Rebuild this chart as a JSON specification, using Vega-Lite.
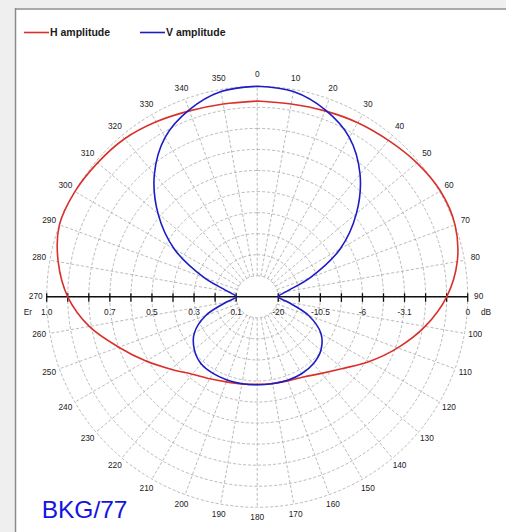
{
  "$schema": "https://vega.github.io/schema/vega-lite/v6.json",
  "width": 491,
  "height": 524,
  "autosize": {"type": "none"},
  "padding": {"left": 15, "top": 8, "right": 0, "bottom": 0},
  "background": "#efefef",
  "config": {
    "view": {"fill": "white", "stroke": null},
    "font": "Liberation Sans",
    "legend": {
      "orient": "none",
      "legendX": 8,
      "legendY": 11,
      "direction": "horizontal",
      "symbolType": "stroke",
      "symbolSize": 625,
      "symbolStrokeWidth": 1.6,
      "labelFont": "Liberation Sans",
      "labelFontWeight": "bold",
      "labelFontSize": 10.5,
      "labelColor": "#1a1a1a",
      "labelOffset": 0,
      "columnPadding": 25,
      "padding": 0
    }
  },
  "layer": [
    {
      "data": {"values": [{"edge": "top"}]},
      "mark": {"type": "rule", "color": "#8c8c8c", "strokeWidth": 1.5},
      "encoding": {
        "y": {"datum": 1.3672, "type": "quantitative", "scale": {"domain": [-1.1173, 1.372], "nice": false, "zero": false}, "axis": null}
      }
    },
    {
      "data": {"values": [{"edge": "left"}]},
      "mark": {"type": "rule", "color": "#8c8c8c", "strokeWidth": 1.5},
      "encoding": {
        "x": {"datum": -1.1482, "type": "quantitative", "scale": {"domain": [-1.1506, 1.1819], "nice": false, "zero": false}, "axis": null}
      }
    },
    {
      "data": {"values": [{"r": 0.1}, {"r": 0.2}, {"r": 0.3}, {"r": 0.4}, {"r": 0.5}, {"r": 0.6}, {"r": 0.7}, {"r": 0.8}, {"r": 0.9}, {"r": 1.0}]},
      "mark": {"type": "arc", "filled": false, "stroke": "#a8a8a8", "strokeWidth": 0.8, "strokeDash": [3, 2], "theta": 0, "theta2": 6.2832},
      "encoding": {
        "x": {"datum": 0, "type": "quantitative", "scale": {"domain": [-1.1506, 1.1819], "nice": false, "zero": false}, "axis": null},
        "y": {"datum": 0, "type": "quantitative", "scale": {"domain": [-1.1173, 1.372], "nice": false, "zero": false}, "axis": null},
        "radius": {"field": "r", "type": "quantitative", "stack": null, "scale": {"type": "linear", "domain": [0, 1], "range": [0, 210.5], "zero": true, "nice": false}, "legend": null}
      }
    },
    {
      "data": {"name": "spokes", "values": [{"a": 0}, {"a": 10}, {"a": 20}, {"a": 30}, {"a": 40}, {"a": 50}, {"a": 60}, {"a": 70}, {"a": 80}, {"a": 90}, {"a": 100}, {"a": 110}, {"a": 120}, {"a": 130}, {"a": 140}, {"a": 150}, {"a": 160}, {"a": 170}, {"a": 180}, {"a": 190}, {"a": 200}, {"a": 210}, {"a": 220}, {"a": 230}, {"a": 240}, {"a": 250}, {"a": 260}, {"a": 270}, {"a": 280}, {"a": 290}, {"a": 300}, {"a": 310}, {"a": 320}, {"a": 330}, {"a": 340}, {"a": 350}]},
      "transform": [
        {"calculate": "0.1*sin(datum.a*PI/180)", "as": "x1"},
        {"calculate": "0.1*cos(datum.a*PI/180)", "as": "y1"},
        {"calculate": "sin(datum.a*PI/180)", "as": "x2"},
        {"calculate": "cos(datum.a*PI/180)", "as": "y2"}
      ],
      "mark": {"type": "rule", "color": "#a8a8a8", "strokeWidth": 0.8, "strokeDash": [3, 2]},
      "encoding": {
        "x": {"field": "x1", "type": "quantitative", "scale": {"domain": [-1.1506, 1.1819], "nice": false, "zero": false}, "axis": null},
        "y": {"field": "y1", "type": "quantitative", "scale": {"domain": [-1.1173, 1.372], "nice": false, "zero": false}, "axis": null},
        "x2": {"field": "x2"},
        "y2": {"field": "y2"}
      }
    },
    {
      "data": {"name": "spokes"},
      "transform": [
        {"calculate": "1.052*sin(datum.a*PI/180)", "as": "lx"},
        {"calculate": "1.052*cos(datum.a*PI/180)", "as": "ly"}
      ],
      "mark": {"type": "text", "fontSize": 8.3, "color": "#222222", "align": "center", "baseline": "middle"},
      "encoding": {
        "x": {"field": "lx", "type": "quantitative", "scale": {"domain": [-1.1506, 1.1819], "nice": false, "zero": false}, "axis": null},
        "y": {"field": "ly", "type": "quantitative", "scale": {"domain": [-1.1173, 1.372], "nice": false, "zero": false}, "axis": null},
        "text": {"field": "a", "type": "quantitative"}
      }
    },
    {
      "data": {"values": [{"axis": "Er/dB"}]},
      "mark": {"type": "rule", "color": "#111111", "strokeWidth": 1.5},
      "encoding": {
        "x": {"datum": -1, "type": "quantitative", "scale": {"domain": [-1.1506, 1.1819], "nice": false, "zero": false}, "axis": null},
        "x2": {"datum": 1},
        "y": {"datum": 0, "type": "quantitative", "scale": {"domain": [-1.1173, 1.372], "nice": false, "zero": false}, "axis": null}
      }
    },
    {
      "data": {"values": [{"er": -1.0}, {"er": -0.9}, {"er": -0.8}, {"er": -0.7}, {"er": -0.6}, {"er": -0.5}, {"er": -0.4}, {"er": -0.3}, {"er": -0.2}, {"er": -0.1}, {"er": 0.1}, {"er": 0.2}, {"er": 0.3}, {"er": 0.4}, {"er": 0.5}, {"er": 0.6}, {"er": 0.7}, {"er": 0.8}, {"er": 0.9}, {"er": 1.0}]},
      "mark": {"type": "rule", "color": "#111111", "strokeWidth": 1.3},
      "encoding": {
        "x": {"field": "er", "type": "quantitative", "scale": {"domain": [-1.1506, 1.1819], "nice": false, "zero": false}, "axis": null},
        "y": {"datum": 0.017, "type": "quantitative", "scale": {"domain": [-1.1173, 1.372], "nice": false, "zero": false}, "axis": null},
        "y2": {"datum": -0.024}
      }
    },
    {
      "data": {"values": [
        {"er": -1.0, "label": "1.0"}, {"er": -0.7, "label": "0.7"}, {"er": -0.5, "label": "0.5"}, {"er": -0.3, "label": "0.3"}, {"er": -0.1, "label": "0.1"},
        {"er": 0.1, "label": "-20"}, {"er": 0.3, "label": "-10.5"}, {"er": 0.5, "label": "-6"}, {"er": 0.7, "label": "-3.1"}, {"er": 1.0, "label": "0"},
        {"er": -1.089, "label": "Er"}, {"er": 1.087, "label": "dB"}
      ]},
      "mark": {"type": "text", "fontSize": 8.3, "color": "#1a1a1a", "align": "center", "baseline": "middle"},
      "encoding": {
        "x": {"field": "er", "type": "quantitative", "scale": {"domain": [-1.1506, 1.1819], "nice": false, "zero": false}, "axis": null},
        "y": {"datum": -0.078, "type": "quantitative", "scale": {"domain": [-1.1173, 1.372], "nice": false, "zero": false}, "axis": null},
        "text": {"field": "label", "type": "nominal"}
      }
    },
    {
      "data": {"values": [
        {"series": "H amplitude", "angle": 0, "er": 0.93},
        {"series": "H amplitude", "angle": 10, "er": 0.93},
        {"series": "H amplitude", "angle": 20, "er": 0.94},
        {"series": "H amplitude", "angle": 30, "er": 0.955},
        {"series": "H amplitude", "angle": 40, "er": 0.97},
        {"series": "H amplitude", "angle": 50, "er": 0.99},
        {"series": "H amplitude", "angle": 60, "er": 1.005},
        {"series": "H amplitude", "angle": 70, "er": 1.0},
        {"series": "H amplitude", "angle": 80, "er": 0.965},
        {"series": "H amplitude", "angle": 90, "er": 0.9},
        {"series": "H amplitude", "angle": 100, "er": 0.81},
        {"series": "H amplitude", "angle": 110, "er": 0.71},
        {"series": "H amplitude", "angle": 120, "er": 0.615},
        {"series": "H amplitude", "angle": 130, "er": 0.53},
        {"series": "H amplitude", "angle": 140, "er": 0.475},
        {"series": "H amplitude", "angle": 150, "er": 0.44},
        {"series": "H amplitude", "angle": 160, "er": 0.425},
        {"series": "H amplitude", "angle": 170, "er": 0.418},
        {"series": "H amplitude", "angle": 180, "er": 0.416},
        {"series": "H amplitude", "angle": 190, "er": 0.42},
        {"series": "H amplitude", "angle": 200, "er": 0.43},
        {"series": "H amplitude", "angle": 210, "er": 0.45},
        {"series": "H amplitude", "angle": 220, "er": 0.48},
        {"series": "H amplitude", "angle": 230, "er": 0.535},
        {"series": "H amplitude", "angle": 240, "er": 0.61},
        {"series": "H amplitude", "angle": 250, "er": 0.7},
        {"series": "H amplitude", "angle": 260, "er": 0.81},
        {"series": "H amplitude", "angle": 270, "er": 0.9},
        {"series": "H amplitude", "angle": 280, "er": 0.96},
        {"series": "H amplitude", "angle": 290, "er": 1.0},
        {"series": "H amplitude", "angle": 300, "er": 1.0},
        {"series": "H amplitude", "angle": 310, "er": 0.99},
        {"series": "H amplitude", "angle": 320, "er": 0.98},
        {"series": "H amplitude", "angle": 330, "er": 0.96},
        {"series": "H amplitude", "angle": 340, "er": 0.94},
        {"series": "H amplitude", "angle": 350, "er": 0.93},
        {"series": "H amplitude", "angle": 360, "er": 0.93},
        {"series": "V amplitude", "angle": 0, "er": 1.0},
        {"series": "V amplitude", "angle": 10, "er": 0.99},
        {"series": "V amplitude", "angle": 20, "er": 0.945},
        {"series": "V amplitude", "angle": 30, "er": 0.875},
        {"series": "V amplitude", "angle": 40, "er": 0.76},
        {"series": "V amplitude", "angle": 50, "er": 0.615},
        {"series": "V amplitude", "angle": 60, "er": 0.455},
        {"series": "V amplitude", "angle": 70, "er": 0.27},
        {"series": "V amplitude", "angle": 80, "er": 0.14},
        {"series": "V amplitude", "angle": 90, "er": 0.1},
        {"series": "V amplitude", "angle": 100, "er": 0.15},
        {"series": "V amplitude", "angle": 110, "er": 0.26},
        {"series": "V amplitude", "angle": 120, "er": 0.35},
        {"series": "V amplitude", "angle": 130, "er": 0.395},
        {"series": "V amplitude", "angle": 140, "er": 0.415},
        {"series": "V amplitude", "angle": 150, "er": 0.422},
        {"series": "V amplitude", "angle": 160, "er": 0.422},
        {"series": "V amplitude", "angle": 170, "er": 0.419},
        {"series": "V amplitude", "angle": 180, "er": 0.418},
        {"series": "V amplitude", "angle": 190, "er": 0.419},
        {"series": "V amplitude", "angle": 200, "er": 0.42},
        {"series": "V amplitude", "angle": 210, "er": 0.42},
        {"series": "V amplitude", "angle": 220, "er": 0.415},
        {"series": "V amplitude", "angle": 230, "er": 0.39},
        {"series": "V amplitude", "angle": 240, "er": 0.345},
        {"series": "V amplitude", "angle": 250, "er": 0.26},
        {"series": "V amplitude", "angle": 260, "er": 0.15},
        {"series": "V amplitude", "angle": 270, "er": 0.1},
        {"series": "V amplitude", "angle": 280, "er": 0.14},
        {"series": "V amplitude", "angle": 290, "er": 0.27},
        {"series": "V amplitude", "angle": 300, "er": 0.455},
        {"series": "V amplitude", "angle": 310, "er": 0.615},
        {"series": "V amplitude", "angle": 320, "er": 0.76},
        {"series": "V amplitude", "angle": 330, "er": 0.875},
        {"series": "V amplitude", "angle": 340, "er": 0.945},
        {"series": "V amplitude", "angle": 350, "er": 0.99},
        {"series": "V amplitude", "angle": 360, "er": 1.0}
      ]},
      "transform": [
        {"calculate": "datum.er*sin(datum.angle*PI/180)", "as": "px"},
        {"calculate": "datum.er*cos(datum.angle*PI/180)", "as": "py"}
      ],
      "mark": {"type": "line", "strokeWidth": 1.6, "strokeJoin": "round", "interpolate": "catmull-rom"},
      "encoding": {
        "x": {"field": "px", "type": "quantitative", "scale": {"domain": [-1.1506, 1.1819], "nice": false, "zero": false}, "axis": null},
        "y": {"field": "py", "type": "quantitative", "scale": {"domain": [-1.1173, 1.372], "nice": false, "zero": false}, "axis": null},
        "order": {"field": "angle", "type": "quantitative"},
        "color": {"field": "series", "type": "nominal", "scale": {"domain": ["H amplitude", "V amplitude"], "range": ["#d9302c", "#1c1cc4"]}, "legend": {"title": null}}
      }
    },
    {
      "data": {"values": [{"label": "BKG/77"}]},
      "mark": {"type": "text", "fontSize": 24.5, "color": "#1414e0", "align": "left", "baseline": "alphabetic"},
      "encoding": {
        "x": {"datum": -1.0238, "type": "quantitative", "scale": {"domain": [-1.1506, 1.1819], "nice": false, "zero": false}, "axis": null},
        "y": {"datum": -1.0523, "type": "quantitative", "scale": {"domain": [-1.1173, 1.372], "nice": false, "zero": false}, "axis": null},
        "text": {"field": "label", "type": "nominal"}
      }
    }
  ]
}
